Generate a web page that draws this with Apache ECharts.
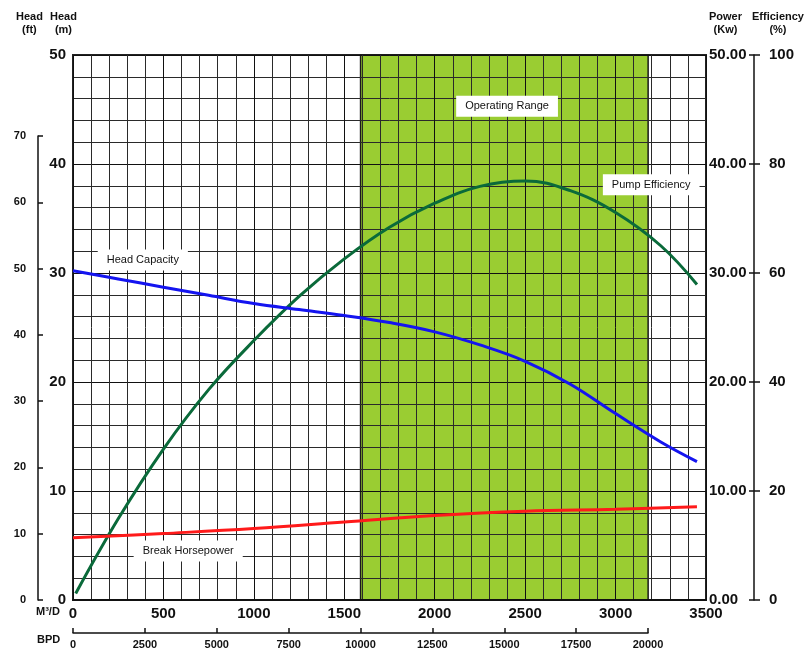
<!DOCTYPE html>
<html>
<head>
<meta charset="utf-8">
<script src="https://cdn.jsdelivr.net/npm/echarts@6/dist/echarts.min.js"></script>
<style>
html,body{margin:0;padding:0;background:#fff;}
#chart{width:812px;height:662px;}
</style>
</head>
<body>
<div id="chart"></div>
<script>
// ---- data (flow in M3/D) ----
const headFlow   = [0, 250, 500, 750, 1000, 1250, 1500, 1750, 2000, 2250, 2500, 2750, 3000, 3250, 3450];
const headValues = [30.2, 29.45, 28.7, 27.95, 27.2, 26.65, 26.1, 25.45, 24.6, 23.4, 21.9, 19.8, 17.1, 14.5, 12.7];

const effFlow   = [15, 250, 500, 750, 1000, 1250, 1500, 1750, 2000, 2250, 2500, 2750, 3000, 3250, 3450];
const effValues = [1.2, 14.9, 27.7, 38.6, 47.6, 55.7, 62.6, 68.4, 72.8, 75.9, 76.9, 75.1, 71.1, 65.0, 57.9];

const powerFlow   = [0, 500, 1000, 1500, 2000, 2500, 3000, 3450];
const powerValues = [5.7, 6.1, 6.55, 7.15, 7.75, 8.15, 8.33, 8.55];

const operatingRange = [1590, 3180];

const annotations = [
  { name: 'Operating Range', coord: [2400, 45.3] },
  { name: 'Pump Efficiency', coord: [3197, 38.1] },
  { name: 'Head Capacity', coord: [386, 31.2] },
  { name: 'Break Horsepower', coord: [637, 4.5] }
];

const FONT = "'Liberation Sans', Arial, sans-serif";
const zip = (xs, ys) => xs.map((x, i) => [x, ys[i]]);
const plain = v => String(v);

const chart = echarts.init(document.getElementById('chart'), null, { renderer: 'canvas' });

const boldLabel = (size) => ({ fontFamily: FONT, fontWeight: 'bold', fontSize: size, color: '#111' });

const option = {
  backgroundColor: '#fff',
  animation: false,
  grid: [
    { left: 73, right: 106, top: 55, bottom: 62, show: true, borderColor: '#222', borderWidth: 2, backgroundColor: 'transparent' },
    { left: 38, width: 10, top: 136, bottom: 62 },
    { left: 73, width: 575, bottom: 29, height: 5 }
  ],
  xAxis: [
    {
      gridIndex: 0, type: 'value', min: 0, max: 3500, interval: 500, z: 1.5,
      axisLine: { show: true, lineStyle: { color: '#111', width: 2 } },
      axisTick: { show: false },
      minorTick: { show: false, splitNumber: 5 },
      axisLabel: Object.assign({ margin: 6, formatter: plain }, boldLabel(15)),
      splitLine: { show: true, lineStyle: { color: '#111', width: 1 } },
      minorSplitLine: { show: true, lineStyle: { color: '#2a2a2a', width: 1 } }
    },
    { gridIndex: 1, type: 'value', show: false, min: 0, max: 1 },
    {
      gridIndex: 2, type: 'value', min: 0, max: 20000, interval: 2500, position: 'bottom',
      axisLine: { show: true, onZero: false, lineStyle: { color: '#111', width: 1.5 } },
      axisTick: { show: true, inside: true, length: 5, lineStyle: { color: '#111', width: 1.5 } },
      axisLabel: Object.assign({ margin: 6, formatter: plain }, boldLabel(11)),
      splitLine: { show: false }
    }
  ],
  yAxis: [
    {
      gridIndex: 0, type: 'value', min: 0, max: 50, interval: 10, position: 'left', z: 1.5,
      axisLine: { show: false }, axisTick: { show: false },
      minorTick: { show: false, splitNumber: 5 },
      axisLabel: Object.assign({ margin: 7 }, boldLabel(15)),
      splitLine: { show: true, lineStyle: { color: '#111', width: 1 } },
      minorSplitLine: { show: true, lineStyle: { color: '#2a2a2a', width: 1 } }
    },
    {
      gridIndex: 0, type: 'value', min: 0, max: 50, interval: 10, position: 'right',
      axisLine: { show: false }, axisTick: { show: false },
      axisLabel: Object.assign({ margin: 3, formatter: v => v.toFixed(2) }, boldLabel(15)),
      splitLine: { show: false }
    },
    {
      gridIndex: 0, type: 'value', min: 0, max: 100, interval: 20, position: 'right', offset: 48,
      axisLine: { show: true, lineStyle: { color: '#111', width: 1.5 } },
      axisTick: { show: true, length: 6, lineStyle: { color: '#111', width: 1.5 } },
      axisLabel: Object.assign({ margin: 15 }, boldLabel(15)),
      splitLine: { show: false }
    },
    {
      gridIndex: 0, type: 'value', min: 0, max: 100, interval: 20, position: 'right', offset: 48,
      axisLine: { show: false },
      axisTick: { show: true, inside: true, length: 5, lineStyle: { color: '#111', width: 1.5 } },
      axisLabel: { show: false },
      splitLine: { show: false }
    },
    {
      gridIndex: 1, type: 'value', min: 0, max: 70, interval: 10, position: 'left',
      axisLine: { show: true, onZero: false, lineStyle: { color: '#111', width: 1.5 } },
      axisTick: { show: true, inside: true, length: 5, lineStyle: { color: '#111', width: 1.5 } },
      axisLabel: Object.assign({ margin: 12 }, boldLabel(11)),
      splitLine: { show: false }
    },
    { gridIndex: 2, type: 'value', show: false, min: 0, max: 1 }
  ],
  graphic: [
    { type: 'text', left: 16, top: 10, style: { text: 'Head\n(ft)', fill: '#111', font: 'bold 11px ' + FONT, textAlign: 'center', lineHeight: 13 } },
    { type: 'text', left: 50, top: 10, style: { text: 'Head\n(m)', fill: '#111', font: 'bold 11px ' + FONT, textAlign: 'center', lineHeight: 13 } },
    { type: 'text', left: 709, top: 10, style: { text: 'Power\n(Kw)', fill: '#111', font: 'bold 11px ' + FONT, textAlign: 'center', lineHeight: 13 } },
    { type: 'text', left: 752, top: 10, style: { text: 'Efficiency\n(%)', fill: '#111', font: 'bold 11px ' + FONT, textAlign: 'center', lineHeight: 13 } },
    { type: 'text', left: 36, top: 606, style: { text: 'M³/D', fill: '#111', font: 'bold 11px ' + FONT } },
    { type: 'text', left: 37, top: 634, style: { text: 'BPD', fill: '#111', font: 'bold 11px ' + FONT } }
  ],
  series: [
    {
      name: 'Operating Range', type: 'line', xAxisIndex: 0, yAxisIndex: 0, z: 1,
      data: [[operatingRange[0], 0]], showSymbol: false, symbol: 'none',
      lineStyle: { width: 0, opacity: 0 },
      silent: true,
      markArea: {
        silent: true, z: 1,
        itemStyle: { color: '#9acd32', borderColor: '#1a1a1a', borderWidth: 1.5 },
        data: [[{ xAxis: operatingRange[0] }, { xAxis: operatingRange[1] }]]
      }
    },
    {
      name: 'Pump Efficiency', type: 'line', xAxisIndex: 0, yAxisIndex: 2, z: 3,
      data: zip(effFlow, effValues), smooth: 0.4, showSymbol: false, symbol: 'none',
      lineStyle: { color: '#0a6a3a', width: 3 }
    },
    {
      name: 'Break Horsepower', type: 'line', xAxisIndex: 0, yAxisIndex: 1, z: 3,
      data: zip(powerFlow, powerValues), smooth: 0.4, showSymbol: false, symbol: 'none',
      lineStyle: { color: '#ff1a1a', width: 3 }
    },
    {
      name: 'Head Capacity', type: 'line', xAxisIndex: 0, yAxisIndex: 0, z: 3,
      data: zip(headFlow, headValues), smooth: 0.4, showSymbol: false, symbol: 'none',
      lineStyle: { color: '#1414f0', width: 3 },
      markPoint: {
        symbol: 'rect', symbolSize: 0, silent: true, z: 5,
        label: {
          show: true, position: 'inside', formatter: p => p.name,
          backgroundColor: '#fff', padding: [5, 9], color: '#111',
          fontFamily: FONT, fontSize: 11
        },
        data: annotations.map(a => ({ name: a.name, coord: a.coord }))
      }
    }
  ]
};

chart.setOption(option);
</script>
</body>
</html>
